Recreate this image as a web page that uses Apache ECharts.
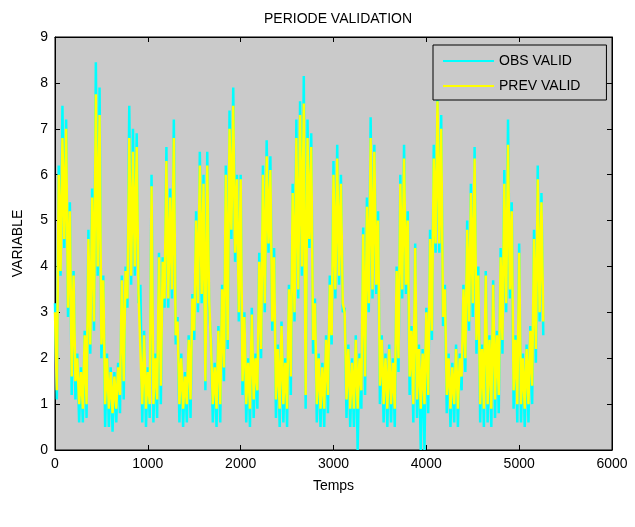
<!DOCTYPE html>
<html><head><meta charset="utf-8">
<script src="https://cdn.jsdelivr.net/npm/echarts@6/dist/echarts.min.js"></script>
<style>html,body{margin:0;padding:0;background:#fff}#c{width:635px;height:527px}</style>
</head><body><div id="c"></div>
<script>
// sampling step along "Temps" (values alternate local high / local low)
const STEP = 20;
const xTicks = [0, 1000, 2000, 3000, 4000, 5000, 6000];
const yTicks = [0, 1, 2, 3, 4, 5, 6, 7, 8, 9];
const seriesNames = ['OBS VALID', 'PREV VALID'];

// OBS VALID (cyan)
const obsValid = [
 3.2,1.1,6.2,3.8,7.5,4.4,7.2,2.9,5.4,1.2,
 3.9,1.1,2.1,0.6,1.8,0.6,2.6,0.7,4.8,2.1,
 5.7,2.6,8.45,3.8,7.9,2.0,3.8,0.5,2.1,0.5,
 1.8,0.4,1.7,0.6,1.9,0.8,3.8,1.1,4.0,3.1,
 7.5,3.6,7.0,3.8,6.9,3.2,3.6,0.6,2.6,0.5,
 1.8,0.7,6.0,0.6,2.1,0.7,4.3,1.0,4.2,3.1,
 6.6,3.1,5.7,3.3,7.2,2.3,2.9,0.6,2.1,0.5,
 1.7,0.6,2.5,0.7,3.4,2.4,5.2,3.0,6.5,3.2,
 6.0,1.3,6.5,3.1,2.4,0.6,1.9,0.5,2.7,0.6,
 3.6,1.5,6.2,2.2,7.4,4.6,7.9,4.1,6.0,2.8,
 6.0,1.2,3.0,0.6,2.0,0.5,3.1,0.7,2.1,0.9,
 4.3,2.0,6.2,3.0,6.75,4.3,6.4,2.6,4.4,0.7,
 2.3,0.5,2.8,0.6,2.0,0.5,3.6,1.2,5.8,2.8,
 7.2,3.3,7.6,3.8,8.15,0.9,7.2,4.4,6.9,2.1,
 3.3,0.6,2.1,0.5,1.9,0.5,2.5,0.8,3.8,2.3,
 6.3,3.3,6.65,3.6,6.0,3.0,3.1,0.7,2.3,0.5,
 2.0,0.5,2.5,0.0,2.1,0.9,4.85,1.2,5.5,3.0,
 7.25,3.3,6.65,3.4,5.2,1.0,2.5,0.6,2.1,0.5,
 2.3,0.6,2.0,0.5,4.0,1.7,6.0,3.3,6.65,3.4,
 5.2,1.2,2.7,0.6,4.5,0.7,2.3,0.0,2.2,0.0,
 3.1,0.8,4.8,2.4,6.65,4.3,7.7,4.3,7.3,2.7,
 3.6,0.8,2.1,0.5,1.9,0.6,2.3,0.5,2.1,1.3,
 3.6,1.7,5.0,2.6,5.8,2.9,6.6,2.1,4.0,0.6,
 2.3,0.5,3.9,0.6,2.5,0.5,3.7,0.7,2.6,0.8,
 4.4,2.1,6.1,3.0,7.2,3.3,5.4,0.9,2.5,0.6,
 4.5,0.6,2.1,0.5,2.3,0.6,2.7,1.0,4.8,1.9,
 6.2,2.8,5.6,2.5
];

// PREV VALID (yellow)
const prevValid = [
 3.0,1.3,6.0,3.9,6.8,4.6,7.0,3.1,5.2,1.6,
 3.8,1.5,2.0,1.0,1.7,0.9,2.5,1.0,4.6,2.3,
 5.5,2.8,7.75,4.0,7.3,2.3,3.7,1.0,2.0,0.9,
 1.7,0.8,1.6,0.9,1.8,1.2,3.7,1.5,3.9,3.3,
 6.8,3.8,6.5,4.0,6.6,3.4,3.4,1.0,2.5,0.9,
 1.7,1.0,5.75,1.0,2.0,1.1,4.2,1.4,4.1,3.3,
 6.3,3.3,5.5,3.5,6.8,2.5,2.8,1.0,2.0,0.9,
 1.6,1.0,2.4,1.1,3.3,2.6,5.0,3.2,6.2,3.4,
 5.8,1.5,6.2,3.3,2.3,1.0,1.8,0.9,2.6,1.0,
 3.5,1.8,6.0,2.4,7.0,4.8,7.5,4.3,5.9,3.0,
 5.9,1.5,2.9,1.0,1.9,0.9,2.95,1.1,2.0,1.3,
 4.1,2.2,6.0,3.2,6.4,4.5,6.1,2.8,4.2,1.1,
 2.2,0.9,2.7,1.0,1.9,0.9,3.5,1.6,5.6,3.0,
 6.8,3.5,7.3,4.0,7.55,1.2,6.8,4.6,6.6,2.4,
 3.2,1.0,2.0,0.9,1.8,0.9,2.4,1.2,3.6,2.5,
 6.0,3.5,6.35,3.8,5.8,3.2,3.0,1.1,2.2,0.9,
 1.9,0.9,2.4,0.9,2.0,1.3,4.7,1.6,5.3,3.2,
 6.8,3.5,6.5,3.6,5.0,1.4,2.4,1.0,2.0,0.9,
 2.2,1.0,1.9,0.9,3.9,2.0,5.8,3.5,6.35,3.6,
 5.0,1.6,2.6,1.0,4.4,1.1,2.2,0.9,2.1,1.0,
 3.0,1.2,4.6,2.6,6.35,4.5,7.6,4.5,7.0,2.9,
 3.5,1.2,2.0,0.9,1.8,1.0,2.2,0.9,2.0,1.6,
 3.5,2.0,4.8,2.8,5.6,3.2,6.35,2.4,3.8,1.0,
 2.2,0.9,3.8,1.0,2.4,0.9,3.6,1.1,2.5,1.2,
 4.2,2.4,5.8,3.2,6.65,3.5,5.2,1.3,2.4,1.0,
 4.3,1.0,2.0,0.9,2.2,1.0,2.6,1.4,4.6,2.2,
 5.9,3.0,5.4,2.8
];

const toPairs = arr => arr.map((v, i) => [i * STEP, v]);
const FONT = 'Liberation Sans, Arial, sans-serif';
const BG = '#cacaca';

function tick() {
  return {show: true, inside: true, length: 5, lineStyle: {color: '#000', width: 1}};
}
function axLine() {
  return {show: true, onZero: false, lineStyle: {color: '#000', width: 1}};
}

const chart = echarts.init(document.getElementById('c'), null, {renderer: 'canvas'});
chart.setOption({
  animation: false,
  backgroundColor: '#fff',
  title: {
    text: 'PERIODE VALIDATION', left: 333, top: 7, textAlign: 'center',
    textStyle: {fontFamily: FONT, fontSize: 14, fontWeight: 'normal', color: '#000'}
  },
  grid: {left: 55, right: 23, top: 37, bottom: 77, show: true, backgroundColor: BG,
         borderColor: '#000', borderWidth: 1, containLabel: false},
  legend: {
    data: seriesNames.map(n => ({name: n, icon: 'rect'})),
    orient: 'vertical', left: 433, top: 45,
    itemWidth: 51, itemHeight: 2, itemGap: 11,
    padding: [9, 26, 7, 10],
    backgroundColor: BG, borderColor: '#000', borderWidth: 1,
    textStyle: {fontFamily: FONT, fontSize: 14, color: '#000'}
  },
  xAxis: [{
    type: 'value', min: xTicks[0], max: xTicks[xTicks.length - 1], interval: 1000,
    name: 'Temps', nameLocation: 'middle', nameGap: 29,
    nameTextStyle: {fontFamily: FONT, fontSize: 14, color: '#000'},
    axisLine: axLine(), axisTick: tick(), splitLine: {show: false},
    axisLabel: {fontFamily: FONT, fontSize: 14, color: '#000', margin: 7, formatter: v => String(v)}
  }, {
    type: 'value', position: 'top', min: xTicks[0], max: xTicks[xTicks.length - 1], interval: 1000,
    axisLine: axLine(), axisTick: tick(), axisLabel: {show: false}, splitLine: {show: false}
  }],
  yAxis: [{
    type: 'value', min: yTicks[0], max: yTicks[yTicks.length - 1], interval: 1,
    name: 'VARIABLE', nameLocation: 'middle', nameGap: 30,
    nameTextStyle: {fontFamily: FONT, fontSize: 14, color: '#000'},
    axisLine: axLine(), axisTick: tick(), splitLine: {show: false},
    axisLabel: {fontFamily: FONT, fontSize: 14, color: '#000', margin: 7, formatter: v => String(v)}
  }, {
    type: 'value', position: 'right', min: yTicks[0], max: yTicks[yTicks.length - 1], interval: 1,
    axisLine: axLine(), axisTick: tick(), axisLabel: {show: false}, splitLine: {show: false}
  }],
  series: [
    {name: seriesNames[0], type: 'line', data: toPairs(obsValid), showSymbol: false, symbol: 'none',
     lineStyle: {color: '#00ffff', width: 2.5, join: 'bevel'}, itemStyle: {color: '#00ffff'}, z: 2},
    {name: seriesNames[1], type: 'line', data: toPairs(prevValid), showSymbol: false, symbol: 'none',
     lineStyle: {color: '#ffff00', width: 2.5, join: 'bevel'}, itemStyle: {color: '#ffff00'}, z: 3}
  ]
});
</script></body></html>
